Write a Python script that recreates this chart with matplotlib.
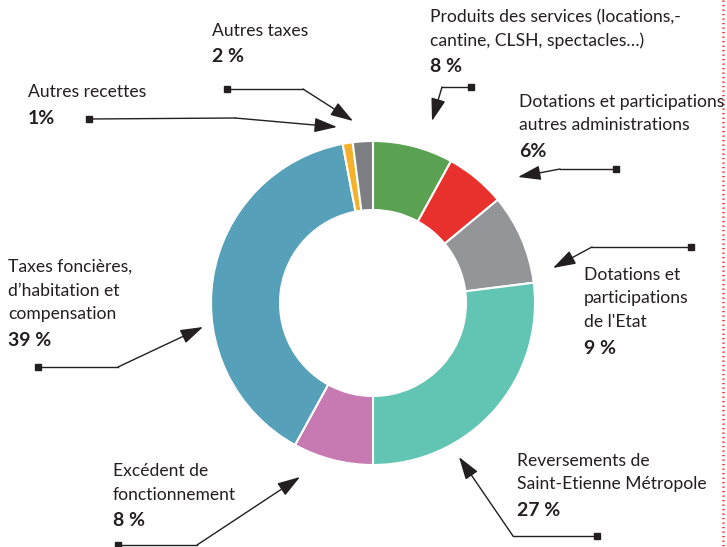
import matplotlib
matplotlib.use('Agg')
import matplotlib.pyplot as plt

plt.rcParams['font.family'] = ['Lato', 'DejaVu Sans']

# donut data, clockwise from top
labels = ['Produits des services (locations,-\ncantine, CLSH, spectacles\u2026)',
          'Dotations et participations\nautres administrations',
          'Dotations et\nparticipations\nde l\'Etat',
          'Reversements de\nSaint-Etienne M\u00e9tropole',
          'Exc\u00e9dent de\nfonctionnement',
          'Taxes fonci\u00e8res,\nd\u2019habitation et\ncompensation',
          'Autres recettes',
          'Autres taxes']
values = [8, 6, 9, 27, 8, 39, 1, 2]
pct_text = ['8 %', '6%', '9 %', '27 %', '8 %', '39 %', '1%', '2 %']
colors = ['#5aa152', '#e8312c', '#939598', '#62c4b2', '#c67ab1', '#56a0b9', '#f6b12a', '#7d7e82']

# layout (pixels, y downward)
text_pos = [(430, 13), (519, 98), (584, 271), (517, 457), (113, 467), (8, 263), (28, 88), (212, 27)]
arrows = [((471, 87), (442, 87), (432, 121)),
          ((616, 169), (560, 169), (518, 177)),
          ((691, 247), (592, 247), (553, 268)),
          ((597, 536), (513, 536), (459, 457)),
          ((118, 545), (197, 545), (300, 477)),
          ((38, 367), (118, 367), (203, 327)),
          ((89, 119), (235, 118), (337, 127)),
          ((227, 89), (303, 89), (353, 121))]

fig = plt.figure(figsize=(7.27, 5.47), dpi=100)
ax = fig.add_axes([0, 0, 1, 1])

ax.pie(values, colors=colors, radius=162, center=(373, 303), startangle=-90, counterclock=True,
       wedgeprops=dict(width=69, edgecolor='white', linewidth=1.5))
ax.set_aspect('auto')
ax.set_xlim(0, 727)
ax.set_ylim(547, 0)
ax.axis('off')

lh = 23.5
fs = 12.6
ink = '#231f20'
for lab, pct, (x, y) in zip(labels, pct_text, text_pos):
    lines = lab.split('\n')
    for i, s in enumerate(lines):
        ax.text(x, y - 4 + i * lh, s, fontsize=fs, color=ink, va='top', ha='left')
    ax.text(x, y - 2 + len(lines) * lh, pct, fontsize=14, color=ink, va='top', ha='left',
            fontweight='bold')

for (p0, p1, p2) in arrows:
    ax.plot([p0[0], p1[0]], [p0[1], p1[1]], color=ink, lw=1.0)
    ax.plot(p0[0], p0[1], marker='s', ms=5, color=ink)
    ax.annotate('', xy=p2, xytext=p1,
                arrowprops=dict(arrowstyle='-|>,head_length=1.0,head_width=0.32', color=ink, lw=1.0,
                                shrinkA=0, shrinkB=0, mutation_scale=14))

ax.plot([723, 723], [0, 547], color='#e8312c', lw=1.8, linestyle=(0, (0.5, 1.3)))

plt.savefig('out.png', dpi=100)
